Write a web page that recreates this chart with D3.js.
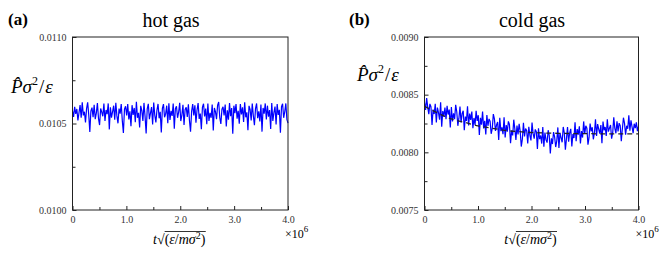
<!DOCTYPE html>
<html>
<head>
<meta charset="utf-8">
<script src="https://cdn.jsdelivr.net/npm/d3@7"></script>
<style>
  body { margin: 0; background: #fff; }
  svg { display: block; }
  text { font-family: "Liberation Serif", "DejaVu Serif", serif; }
</style>
</head>
<body>
<div id="chart"></div>
<script>
// time axis is in units of 10^6
const timeMax = 4.0;
const xTicks = [0, 1, 2, 3, 4];
const xMinorTicks = [0.5, 1.5, 2.5, 3.5];

const hotTicks = [0.0100, 0.0105, 0.0110];
const hotMinorTicks = [0.01025, 0.01075];
const coldTicks = [0.0075, 0.0080, 0.0085, 0.0090];
const coldMinorTicks = [0.00775, 0.00825, 0.00875];

// pressure traces (evenly spaced in time)
const hotGas = [
  0.010573, 0.010538, 0.010597, 0.010555, 0.010584, 0.010518, 0.010562, 0.010606, 0.010533, 0.010622,
  0.010547, 0.010568, 0.010506, 0.010586, 0.010622, 0.010550, 0.010451, 0.010573, 0.010592, 0.010536,
  0.010608, 0.010525, 0.010560, 0.010618, 0.010530, 0.010491, 0.010587, 0.010566, 0.010542, 0.010615,
  0.010515, 0.010578, 0.010554, 0.010616, 0.010466, 0.010594, 0.010534, 0.010568, 0.010603, 0.010522,
  0.010620, 0.010544, 0.010501, 0.010586, 0.010557, 0.010613, 0.010515, 0.010445, 0.010582, 0.010600,
  0.010546, 0.010612, 0.010523, 0.010570, 0.010485, 0.010606, 0.010550, 0.010590, 0.010507, 0.010625,
  0.010533, 0.010562, 0.010477, 0.010602, 0.010574, 0.010515, 0.010619, 0.010541, 0.010442, 0.010584,
  0.010614, 0.010525, 0.010560, 0.010595, 0.010494, 0.010621, 0.010547, 0.010506, 0.010578, 0.010613,
  0.010530, 0.010568, 0.010448, 0.010587, 0.010612, 0.010536, 0.010554, 0.010603, 0.010502, 0.010617,
  0.010520, 0.010573, 0.010544, 0.010616, 0.010470, 0.010586, 0.010600, 0.010533, 0.010565, 0.010620,
  0.010514, 0.010549, 0.010608, 0.010491, 0.010581, 0.010594, 0.010538, 0.010611, 0.010518, 0.010452,
  0.010570, 0.010612, 0.010546, 0.010605, 0.010504, 0.010578, 0.010618, 0.010526, 0.010557, 0.010467,
  0.010595, 0.010614, 0.010541, 0.010586, 0.010496, 0.010616, 0.010515, 0.010562, 0.010533, 0.010609,
  0.010459, 0.010590, 0.010568, 0.010525, 0.010606, 0.010624, 0.010534, 0.010498, 0.010582, 0.010597,
  0.010547, 0.010610, 0.010483, 0.010576, 0.010522, 0.010618, 0.010542, 0.010589, 0.010441, 0.010603,
  0.010560, 0.010613, 0.010528, 0.010573, 0.010499, 0.010613, 0.010552, 0.010594, 0.010509, 0.010622,
  0.010536, 0.010565, 0.010461, 0.010602, 0.010581, 0.010518, 0.010615, 0.010544, 0.010490, 0.010586,
  0.010616, 0.010531, 0.010570, 0.010512, 0.010610, 0.010453, 0.010590, 0.010557, 0.010616, 0.010523,
  0.010603, 0.010539, 0.010578, 0.010469, 0.010619, 0.010515, 0.010563, 0.010598, 0.010494, 0.010612,
  0.010550, 0.010579, 0.010446, 0.010597, 0.010614, 0.010533, 0.010568, 0.010616, 0.010522, 0.010502
];

const coldGas = [
  0.008432, 0.008367, 0.008470, 0.008392, 0.008331, 0.008420, 0.008396, 0.008238, 0.008370, 0.008332,
  0.008420, 0.008259, 0.008388, 0.008344, 0.008283, 0.008433, 0.008223, 0.008359, 0.008310, 0.008389,
  0.008288, 0.008403, 0.008328, 0.008370, 0.008216, 0.008392, 0.008268, 0.008338, 0.008288, 0.008412,
  0.008352, 0.008230, 0.008296, 0.008398, 0.008260, 0.008336, 0.008360, 0.008191, 0.008310, 0.008272,
  0.008400, 0.008233, 0.008336, 0.008281, 0.008354, 0.008209, 0.008298, 0.008238, 0.008361, 0.008272,
  0.008322, 0.008151, 0.008299, 0.008239, 0.008353, 0.008208, 0.008274, 0.008155, 0.008323, 0.008230,
  0.008290, 0.008270, 0.008161, 0.008205, 0.008332, 0.008290, 0.008186, 0.008237, 0.008263, 0.008107,
  0.008300, 0.008184, 0.008217, 0.008157, 0.008304, 0.008128, 0.008237, 0.008179, 0.008268, 0.008242,
  0.008079, 0.008188, 0.008146, 0.008283, 0.008203, 0.008108, 0.008232, 0.008156, 0.008248, 0.008182,
  0.008050, 0.008115, 0.008256, 0.008138, 0.008207, 0.008190, 0.008077, 0.008222, 0.008148, 0.008103,
  0.008258, 0.008162, 0.008119, 0.008199, 0.008178, 0.008030, 0.008208, 0.008114, 0.008146, 0.008076,
  0.008220, 0.008048, 0.008172, 0.008108, 0.008084, 0.008192, 0.008146, 0.007991, 0.008121, 0.008072,
  0.008176, 0.008134, 0.008046, 0.008100, 0.008216, 0.008038, 0.008168, 0.008127, 0.008087, 0.008220,
  0.008168, 0.008022, 0.008119, 0.008219, 0.008092, 0.008168, 0.008204, 0.008050, 0.008158, 0.008124,
  0.008260, 0.008096, 0.008202, 0.008154, 0.008226, 0.008076, 0.008184, 0.008128, 0.008268, 0.008160,
  0.008230, 0.008209, 0.008067, 0.008127, 0.008250, 0.008181, 0.008218, 0.008113, 0.008168, 0.008287,
  0.008142, 0.008245, 0.008202, 0.008162, 0.008237, 0.008078, 0.008267, 0.008190, 0.008220, 0.008143,
  0.008286, 0.008179, 0.008210, 0.008237, 0.008118, 0.008168, 0.008303, 0.008208, 0.008165, 0.008270,
  0.008182, 0.008253, 0.008230, 0.008097, 0.008204, 0.008300, 0.008251, 0.008152, 0.008230, 0.008205,
  0.008322, 0.008187, 0.008278, 0.008221, 0.008166, 0.008248, 0.008210, 0.008260, 0.008184, 0.008226
];

// relaxation fit drawn dashed on the cold-gas panel
const fitTimes = [0, 0.25, 0.5, 0.75, 1.0, 1.25, 1.5, 1.75, 2.0, 2.5, 3.0, 3.5, 4.0];
const fitValues = [0.00840, 0.00834, 0.00829, 0.00826, 0.00823, 0.00821, 0.00819, 0.00818,
                   0.008172, 0.008165, 0.008162, 0.008160, 0.008160];

const width = 664, height = 255;
const svg = d3.select('#chart').append('svg')
  .attr('width', width)
  .attr('height', height)
  .attr('font-family', '"Liberation Serif", serif');

function drawPanel(o) {
  const x = d3.scaleLinear().domain([0, timeMax]).range([o.left, o.right]);
  const y = d3.scaleLinear().domain(o.domain).range([o.bottom, o.top]);
  const g = svg.append('g');

  // trace
  const n = o.data.length;
  const line = d3.line()
    .x((d, i) => x(i * timeMax / (n - 1)))
    .y(d => y(d));
  g.append('path')
    .datum(o.data)
    .attr('d', line)
    .attr('fill', 'none')
    .attr('stroke', '#0000ff')
    .attr('stroke-width', 1.2)
    .attr('stroke-linejoin', 'bevel');

  if (o.fit) {
    const fitLine = d3.line()
      .x(d => x(d[0]))
      .y(d => y(d[1]))
      .curve(d3.curveMonotoneX);
    g.append('path')
      .datum(d3.zip(fitTimes, fitValues))
      .attr('d', fitLine)
      .attr('fill', 'none')
      .attr('stroke', '#222')
      .attr('stroke-width', 1.3)
      .attr('stroke-dasharray', '5,4');
  }

  // axes, ticks pointing inward
  g.append('g')
    .attr('transform', `translate(0,${o.bottom})`)
    .call(d3.axisBottom(x).tickValues(xTicks).tickSize(-4).tickPadding(6)
      .tickFormat(d => d === 0 ? '0' : d.toFixed(1)));
  g.append('g')
    .attr('transform', `translate(0,${o.bottom})`)
    .call(d3.axisBottom(x).tickValues(xMinorTicks).tickSize(-3).tickFormat(''));
  g.append('g')
    .attr('transform', `translate(${o.left},0)`)
    .call(d3.axisLeft(y).tickValues(o.ticks).tickSize(-4).tickPadding(6)
      .tickFormat(d3.format('.4f')));
  g.append('g')
    .attr('transform', `translate(${o.left},0)`)
    .call(d3.axisLeft(y).tickValues(o.minor).tickSize(-3).tickFormat(''));

  g.selectAll('.domain').remove();
  g.selectAll('g').attr('font-family', null);
  g.selectAll('.tick line').attr('stroke', '#222');
  g.selectAll('.tick text')
    .attr('font-size', 10)
    .attr('fill', '#333');

  // frame
  g.append('rect')
    .attr('x', o.left).attr('y', o.top)
    .attr('width', o.right - o.left).attr('height', o.bottom - o.top)
    .attr('fill', 'none')
    .attr('stroke', '#222')
    .attr('stroke-width', 1);

  // panel letter and title
  g.append('text')
    .attr('x', o.letterX).attr('y', 25)
    .attr('font-size', 17).attr('font-weight', 'bold')
    .text(o.letter);
  g.append('text')
    .attr('x', o.titleX).attr('y', 27)
    .attr('text-anchor', 'middle')
    .attr('font-size', 20)
    .text(o.title);

  // y label: P̂σ²/ε
  const yl = g.append('text')
    .attr('x', o.ylabelX).attr('y', o.ylabelY)
    .attr('font-size', 19);
  yl.append('tspan').attr('font-style', 'italic').text('P\u0302');
  yl.append('tspan').attr('font-style', 'italic').text('σ');
  yl.append('tspan').attr('font-size', 12).attr('dy', -8).text('2');
  yl.append('tspan').attr('dy', 8).attr('dx', 1).text('/');
  yl.append('tspan').attr('font-style', 'italic').attr('dx', 1).text('ε');

  // x label: t√(ε/mσ²)
  const xlx = (o.left + o.right) / 2 - 1;
  const xl = g.append('text')
    .attr('x', xlx).attr('y', 244)
    .attr('text-anchor', 'middle')
    .attr('font-size', 14);
  xl.append('tspan').attr('font-style', 'italic').text('t');
  xl.append('tspan').text('√');
  xl.append('tspan').text('(');
  xl.append('tspan').attr('font-style', 'italic').text('ε');
  xl.append('tspan').text('/');
  xl.append('tspan').attr('font-style', 'italic').text('mσ');
  xl.append('tspan').attr('font-size', 10).attr('dy', -5).text('2');
  xl.append('tspan').attr('dy', 5).text(')');
  // overline of the root
  const bb = xl.node().getBBox();
  const rootStart = xl.node().getStartPositionOfChar(2).x;
  g.append('line')
    .attr('x1', rootStart).attr('x2', bb.x + bb.width)
    .attr('y1', bb.y + 1.5).attr('y2', bb.y + 1.5)
    .attr('stroke', '#000').attr('stroke-width', 0.8);

  // ×10^6 multiplier
  const m = g.append('text')
    .attr('x', o.right - 3).attr('y', 238)
    .attr('font-size', 12);
  m.append('tspan').text('×10');
  m.append('tspan').attr('font-size', 9).attr('dy', -6).text('6');
}

drawPanel({
  left: 72.5, right: 288, top: 37, bottom: 210,
  domain: [0.0100, 0.0110], ticks: hotTicks, minor: hotMinorTicks,
  data: hotGas, fit: false,
  letter: '(a)', letterX: 8, title: 'hot gas', titleX: 171,
  ylabelX: 11, ylabelY: 93
});

drawPanel({
  left: 424.5, right: 638.5, top: 37, bottom: 210,
  domain: [0.0075, 0.0090], ticks: coldTicks, minor: coldMinorTicks,
  data: coldGas, fit: true,
  letter: '(b)', letterX: 349, title: 'cold gas', titleX: 532,
  ylabelX: 357, ylabelY: 81
});
</script>
</body>
</html>
